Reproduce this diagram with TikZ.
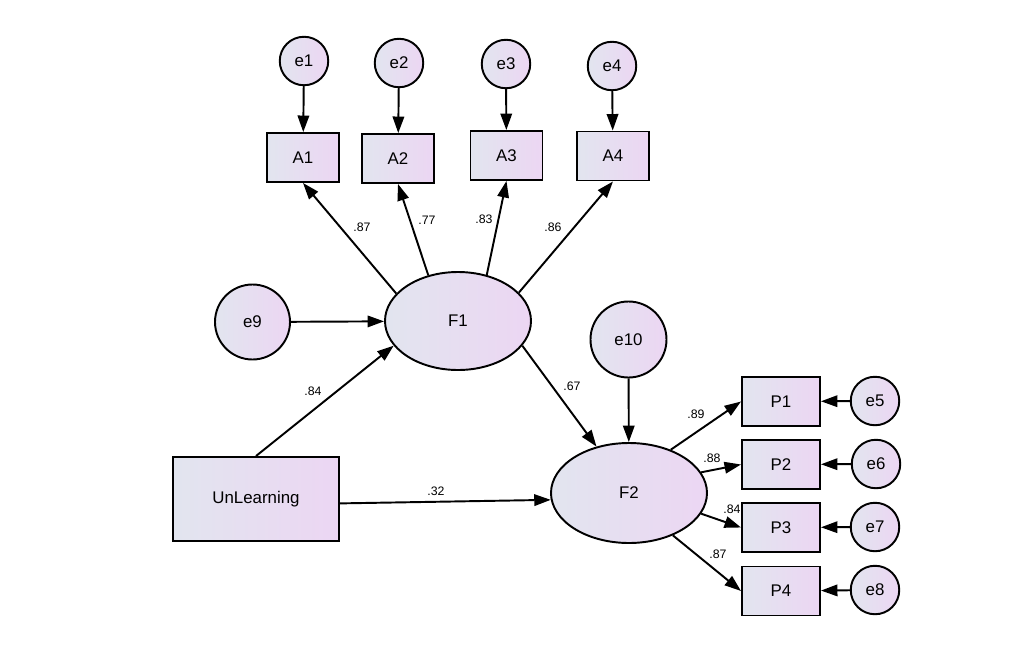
\documentclass[tikz,border=0pt]{standalone}
\usepackage{fontspec}
\setmainfont{Liberation Sans}
\usetikzlibrary{arrows.meta,shapes.geometric}

\definecolor{shadeL}{RGB}{226,229,239}
\definecolor{shadeR}{RGB}{236,214,243}

\begin{document}
\begin{tikzpicture}[scale=0.2]
\tikzstyle{every node}+=[inner sep=0pt]
\tikzstyle{base}=[draw=black, line width=1.1pt, left color=shadeL, right color=shadeR, font=\fontsize{9.6}{11}\selectfont]
\tikzstyle{errs}=[base, circle, minimum size=0.97cm]
\tikzstyle{errb}=[base, circle, minimum size=1.5cm]
\tikzstyle{obsA}=[base, rectangle, minimum width=1.44cm, minimum height=0.98cm]
\tikzstyle{obsP}=[base, rectangle, minimum width=1.56cm, minimum height=0.98cm]
\tikzstyle{latent}=[base, ellipse]
\tikzstyle{path}=[black, line width=1.1pt, -{Triangle[length=0.33cm,width=0.23cm]}]
\tikzstyle{coef}=[font=\fontsize{7}{8}\selectfont]
\useasboundingbox (0,0) rectangle (102.4,-65);
% nodes
\node [errs] (e1) at (30.4,-6.1) {e1};
\node [errs] (e2) at (39.9,-6.3) {e2};
\node [errs] (e3) at (50.6,-6.4) {e3};
\node [errs] (e4) at (61.2,-6.6) {e4};
\node [obsA] (A1) at (30.3,-15.75) {A1};
\node [obsA] (A2) at (39.8,-15.85) {A2};
\node [obsA] (A3) at (50.65,-15.55) {A3};
\node [obsA] (A4) at (61.3,-15.6) {A4};
\node [latent, minimum width=2.92cm, minimum height=1.96cm] (F1) at (45.8,-32.1) {F1};
\node [errb] (e9) at (25.25,-32.2) {e9};
\node [base, rectangle, minimum width=3.32cm, minimum height=1.68cm] (UnLearning) at (25.6,-49.9) {UnLearning};
\node [latent, minimum width=3.12cm, minimum height=2cm] (F2) at (62.9,-49.3) {F2};
\node [errb, minimum size=1.52cm] (e10) at (62.85,-33.95) {e10};
\node [obsP] (P1) at (78.1,-40.15) {P1};
\node [obsP] (P2) at (78.1,-46.45) {P2};
\node [obsP] (P3) at (78.1,-52.75) {P3};
\node [obsP] (P4) at (78.1,-59.1) {P4};
\node [errs] (e5) at (87.5,-40.1) {e5};
\node [errs] (e6) at (87.6,-46.4) {e6};
\node [errs] (e7) at (87.5,-52.7) {e7};
\node [errs] (e8) at (87.5,-59.0) {e8};
% error paths
\draw [path] (e1) -- (A1);
\draw [path] (e2) -- (A2);
\draw [path] (e3) -- (A3);
\draw [path] (e4) -- (A4);
\draw [path] (e9) -- (F1);
\draw [path] (e10) -- (F2);
\draw [path] (e5) -- (P1);
\draw [path] (e6) -- (P2);
\draw [path] (e7) -- (P3);
\draw [path] (e8) -- (P4);
% loadings
\draw [path] (F1.156) -- (A1.south);
\draw [path] (F1.123) -- (A2.south);
\draw [path] (F1.58) -- (A3.south);
\draw [path] (F1.25) -- (A4.south);
\draw [path] (F2.46) -- (P1.west);
\draw [path] (F2.16) -- (P2.west);
\draw [path] (F2.-16) -- (P3.west);
\draw [path] (F2.-44) -- (P4.west);
% structural paths
\draw [path] (UnLearning.north) -- (F1.201);
\draw [path] (UnLearning.-3) -- (F2.185);
\draw [path] (F1.-21) -- (F2.125);
% coefficients
\node [coef] (cA1) at (36.2,-22.7) {.87};
\node [coef] (cA2) at (42.7,-22.0) {.77};
\node [coef] (cA3) at (48.4,-21.9) {.83};
\node [coef] (cA4) at (55.3,-22.7) {.86};
\node [coef] (cUF1) at (31.3,-39.1) {.84};
\node [coef] (cUF2) at (43.6,-49.1) {.32};
\node [coef] (cF12) at (57.2,-38.6) {.67};
\node [coef] (cP1) at (69.6,-41.4) {.89};
\node [coef] (cP2) at (71.2,-45.8) {.88};
\node [coef] (cP3) at (73.2,-50.9) {.84};
\node [coef] (cP4) at (71.8,-55.4) {.87};
\end{tikzpicture}
\end{document}
